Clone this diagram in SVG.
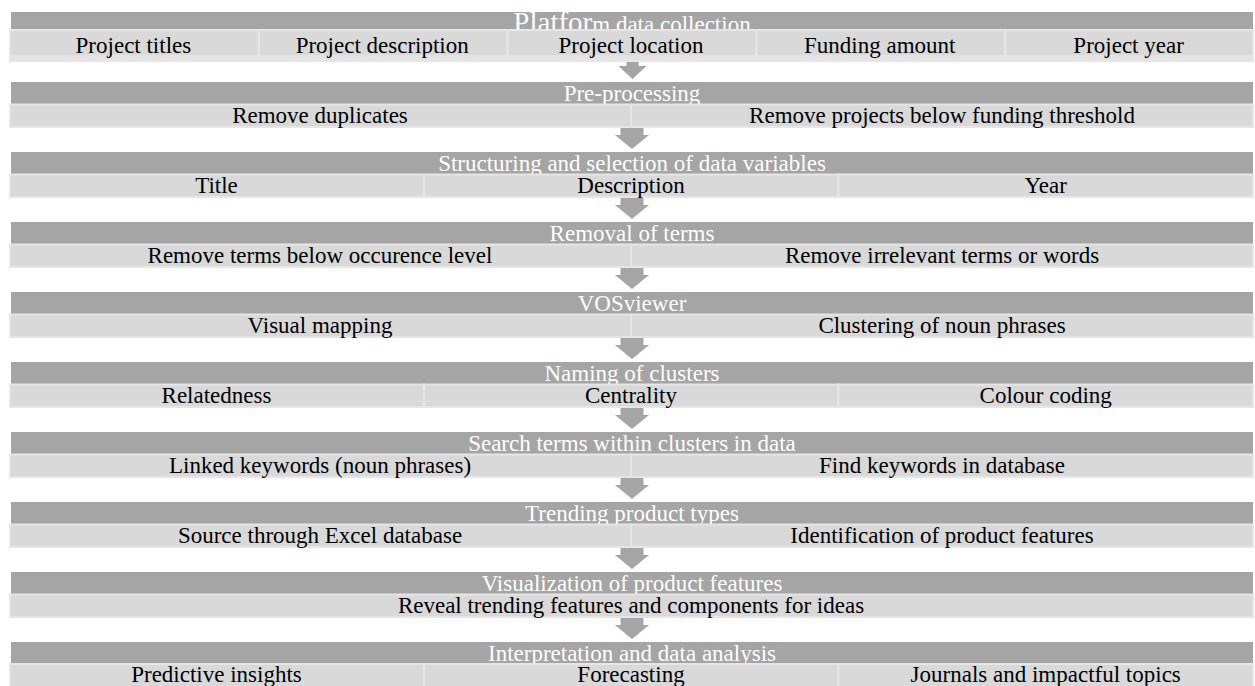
<svg xmlns="http://www.w3.org/2000/svg" width="1255" height="686" viewBox="0 0 1255 686" xml:space="preserve">
  <style>
    .hd { fill: #a5a5a5; }
    .cell { fill: #d9d9d9; stroke: #e6e6e6; stroke-width: 2; }
    .band { fill: #e3e3e3; }
    .ht { font-family: "Liberation Serif", "Times New Roman", serif; font-size: 23px; fill: #ffffff; text-anchor: middle; }
    .ct { font-family: "Liberation Serif", "Times New Roman", serif; font-size: 23px; fill: #000000; text-anchor: middle; }
    .arrow { fill: #a5a5a5; }
  </style>

  <rect width="1255" height="686" fill="#ffffff"/>

  <!-- down arrows between the stages -->
  <g id="connectors">
    <polygon class="arrow" points="626.5,60 638.5,60 638.5,66 646.5,66 632.5,79 618.5,66 626.5,66"/>
    <polygon class="arrow" points="620.5,126 643.5,126 643.5,135 649,135 632,149 615,135 620.5,135"/>
    <polygon class="arrow" points="620.5,196 643.5,196 643.5,205 649,205 632,219 615,205 620.5,205"/>
    <polygon class="arrow" points="620.5,266 643.5,266 643.5,275 649,275 632,289 615,275 620.5,275"/>
    <polygon class="arrow" points="620.5,336 643.5,336 643.5,345 649,345 632,359 615,345 620.5,345"/>
    <polygon class="arrow" points="620.5,406 643.5,406 643.5,415 649,415 632,429 615,415 620.5,415"/>
    <polygon class="arrow" points="620.5,476 643.5,476 643.5,485 649,485 632,499 615,485 620.5,485"/>
    <polygon class="arrow" points="620.5,546 643.5,546 643.5,555 649,555 632,569 615,555 620.5,555"/>
    <polygon class="arrow" points="620.5,616 643.5,616 643.5,625 649,625 632,639 615,625 620.5,625"/>
  </g>

  <!-- stage 1 -->
  <g id="stage-collection">
    <rect class="hd" x="11" y="12" width="1242" height="18"/>
    <text class="ht" x="632" y="32"><tspan font-size="29">Platfor</tspan>m data collection</text>
    <rect class="cell" x="10" y="30" width="248.8" height="31"/>
    <rect class="cell" x="258.8" y="30" width="248.8" height="31"/>
    <rect class="cell" x="507.6" y="30" width="248.8" height="31"/>
    <rect class="cell" x="756.4" y="30" width="248.8" height="31"/>
    <rect class="cell" x="1005.2" y="30" width="247.8" height="31"/>
    <rect class="band" x="11" y="55" width="1241" height="5"/>
    <text class="ct" x="133.4" y="53">Project titles</text>
    <text class="ct" x="382.2" y="53">Project description</text>
    <text class="ct" x="631" y="53">Project location</text>
    <text class="ct" x="879.8" y="53">Funding  amount</text>
    <text class="ct" x="1128.6" y="53">Project year</text>
  </g>

  <!-- stage 2 -->
  <g id="stage-preprocessing">
    <rect class="hd" x="11" y="82" width="1242" height="22.5"/>
    <text class="ht" x="632" y="100.7">Pre-processing</text>
    <rect class="cell" x="10" y="104.5" width="621" height="22.5"/>
    <rect class="cell" x="631" y="104.5" width="622" height="22.5"/>
    <text class="ct" x="320" y="123">Remove duplicates</text>
    <text class="ct" x="942" y="123">Remove projects below funding threshold</text>
  </g>

  <!-- stage 3 -->
  <g id="stage-structuring">
    <rect class="hd" x="11" y="152" width="1242" height="22.5"/>
    <text class="ht" x="632" y="170.7">Structuring and selection of data variables</text>
    <rect class="cell" x="10" y="174.5" width="414" height="22.5"/>
    <rect class="cell" x="424" y="174.5" width="414.5" height="22.5"/>
    <rect class="cell" x="838.5" y="174.5" width="414.5" height="22.5"/>
    <text class="ct" x="216.5" y="193">Title</text>
    <text class="ct" x="631" y="193">Description</text>
    <text class="ct" x="1045.7" y="193">Year</text>
  </g>

  <!-- stage 4 -->
  <g id="stage-removal">
    <rect class="hd" x="11" y="222" width="1242" height="22.5"/>
    <text class="ht" x="632" y="240.7">Removal of terms</text>
    <rect class="cell" x="10" y="244.5" width="621" height="22.5"/>
    <rect class="cell" x="631" y="244.5" width="622" height="22.5"/>
    <text class="ct" x="320" y="263">Remove terms below occurence level</text>
    <text class="ct" x="942" y="263">Remove irrelevant  terms or words</text>
  </g>

  <!-- stage 5 -->
  <g id="stage-vosviewer">
    <rect class="hd" x="11" y="292" width="1242" height="22.5"/>
    <text class="ht" x="632" y="310.7">VOSviewer</text>
    <rect class="cell" x="10" y="314.5" width="621" height="22.5"/>
    <rect class="cell" x="631" y="314.5" width="622" height="22.5"/>
    <text class="ct" x="320" y="333">Visual mapping</text>
    <text class="ct" x="942" y="333">Clustering of noun phrases</text>
  </g>

  <!-- stage 6 -->
  <g id="stage-naming">
    <rect class="hd" x="11" y="362" width="1242" height="22.5"/>
    <text class="ht" x="632" y="380.7">Naming of clusters</text>
    <rect class="cell" x="10" y="384.5" width="414" height="22.5"/>
    <rect class="cell" x="424" y="384.5" width="414.5" height="22.5"/>
    <rect class="cell" x="838.5" y="384.5" width="414.5" height="22.5"/>
    <text class="ct" x="216.5" y="403">Relatedness</text>
    <text class="ct" x="631" y="403">Centrality</text>
    <text class="ct" x="1045.7" y="403">Colour coding</text>
  </g>

  <!-- stage 7 -->
  <g id="stage-search">
    <rect class="hd" x="11" y="432" width="1242" height="22.5"/>
    <text class="ht" x="632" y="450.7">Search terms within clusters in data</text>
    <rect class="cell" x="10" y="454.5" width="621" height="22.5"/>
    <rect class="cell" x="631" y="454.5" width="622" height="22.5"/>
    <text class="ct" x="320" y="473">Linked keywords (noun phrases)</text>
    <text class="ct" x="942" y="473">Find keywords in database</text>
  </g>

  <!-- stage 8 -->
  <g id="stage-trending">
    <rect class="hd" x="11" y="502" width="1242" height="22.5"/>
    <text class="ht" x="632" y="520.7">Trending product types</text>
    <rect class="cell" x="10" y="524.5" width="621" height="22.5"/>
    <rect class="cell" x="631" y="524.5" width="622" height="22.5"/>
    <text class="ct" x="320" y="543">Source through Excel database</text>
    <text class="ct" x="942" y="543">Identification of product features</text>
  </g>

  <!-- stage 9 -->
  <g id="stage-visualization">
    <rect class="hd" x="11" y="572" width="1242" height="22.5"/>
    <text class="ht" x="632" y="590.7">Visualization  of product features</text>
    <rect class="cell" x="10" y="594.5" width="1243" height="22.5"/>
    <text class="ct" x="631" y="613">Reveal trending  features and components for ideas</text>
  </g>

  <!-- stage 10 -->
  <g id="stage-interpretation">
    <rect class="hd" x="11" y="642" width="1242" height="22"/>
    <text class="ht" x="632" y="660.5">Interpretation and data analysis</text>
    <rect class="cell" x="10" y="664" width="414" height="30"/>
    <rect class="cell" x="424" y="664" width="414.5" height="30"/>
    <rect class="cell" x="838.5" y="664" width="414.5" height="30"/>
    <text class="ct" x="216.5" y="682">Predictive insights</text>
    <text class="ct" x="631" y="682">Forecasting</text>
    <text class="ct" x="1045.7" y="682">Journals and impactful topics</text>
  </g>
</svg>
